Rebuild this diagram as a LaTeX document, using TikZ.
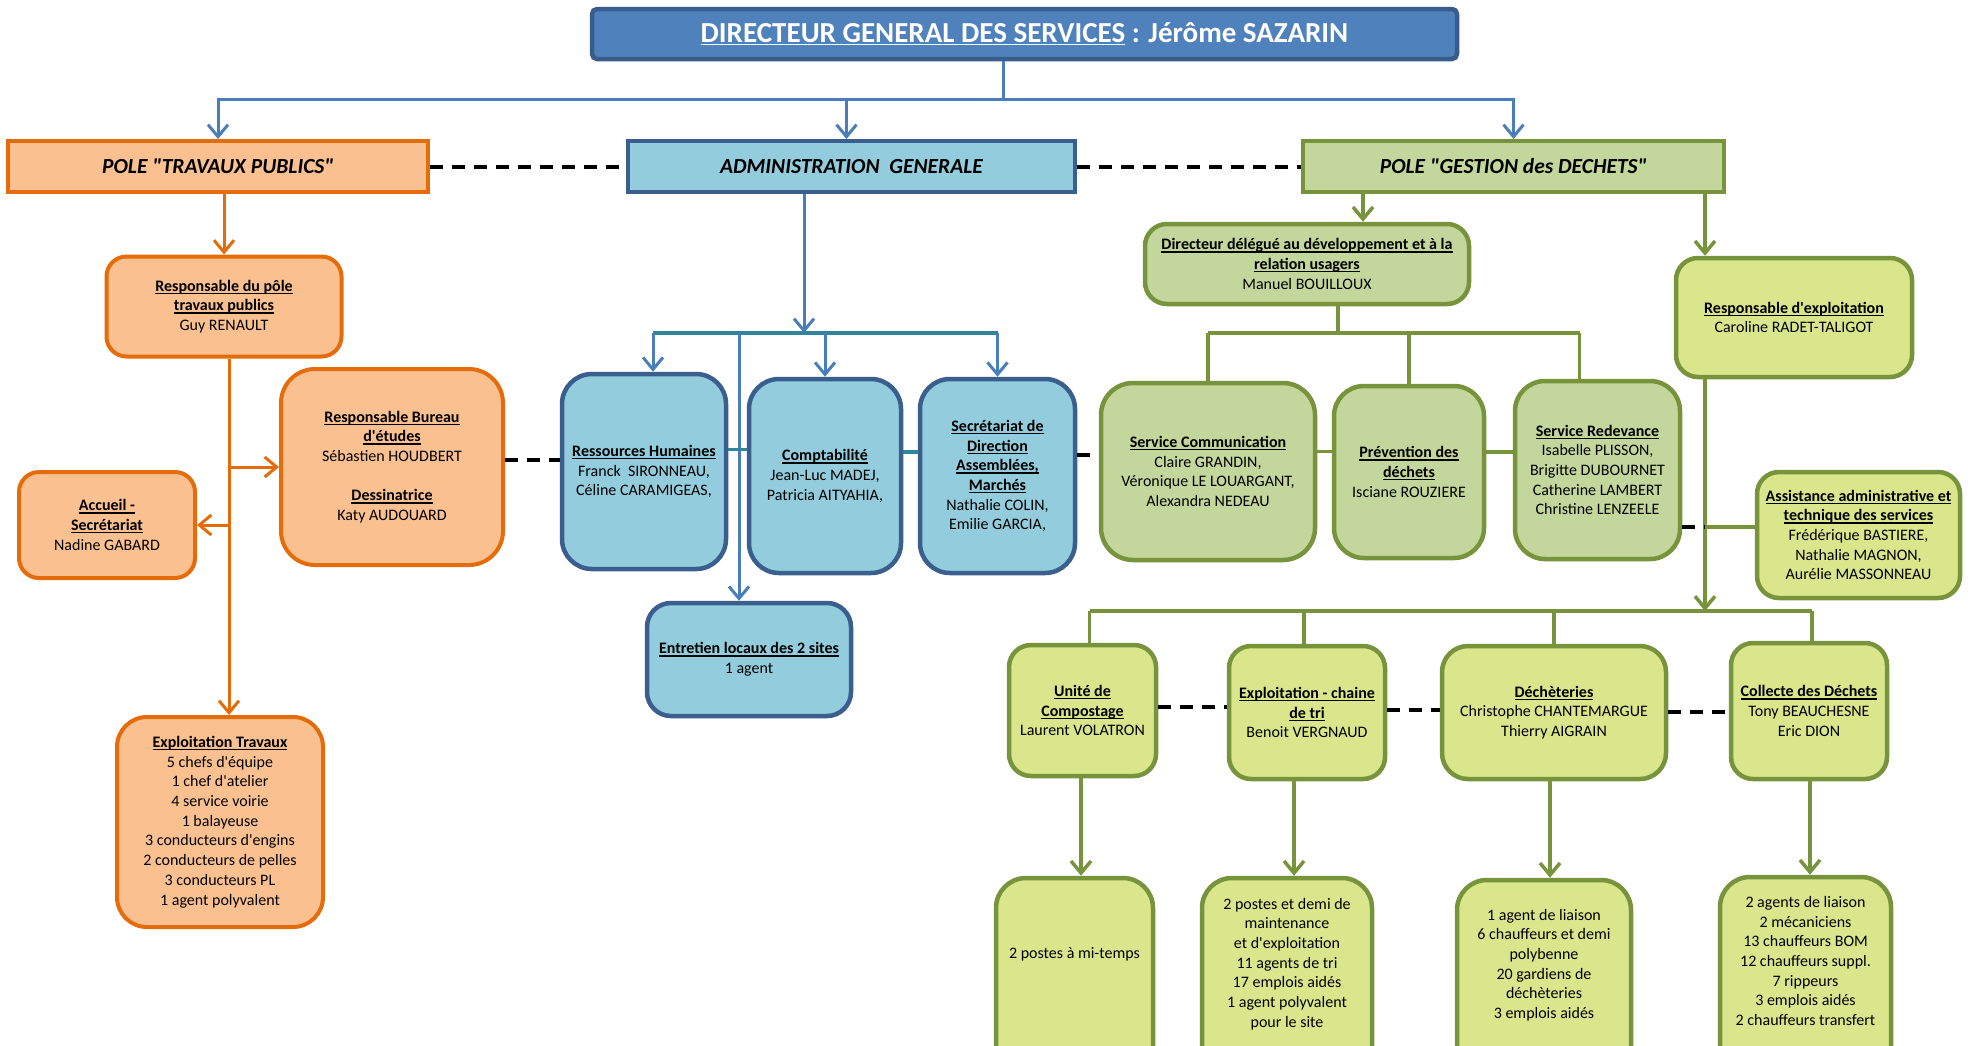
\documentclass[tikz,border=0pt]{standalone}
\usepackage{fontspec}
\setmainfont{Carlito}
\usetikzlibrary{arrows.meta}
\definecolor{dgsfill}{HTML}{4F81BD}
\definecolor{dgsline}{HTML}{385D8A}
\definecolor{adfill}{HTML}{93CDDD}
\definecolor{adline}{HTML}{3A5F8E}
\definecolor{adconn}{HTML}{4A7EBB}
\definecolor{adteal}{HTML}{31859C}
\definecolor{orfill}{HTML}{FAC090}
\definecolor{orline}{HTML}{E46C0A}
\definecolor{gnfill}{HTML}{C3D69B}
\definecolor{gnline}{HTML}{77933C}
\definecolor{ygfill}{HTML}{D9E68B}
\newsavebox{\myulbox}
\newcommand{\myul}[1]{\sbox{\myulbox}{#1}\rlap{\rule[-2.8pt]{\wd\myulbox}{1.3pt}}\usebox{\myulbox}}
\newcommand{\hd}[1]{\textbf{\myul{#1}}}
\newcommand{\q}{\textquotesingle}
\newcommand{\qq}{\textquotedbl}
\tikzset{
  txt/.style={align=center, inner sep=0pt, font=\fontsize{16pt}{19.7pt}\selectfont},
  obox/.style={txt, fill=orfill, draw=orline, line width=4pt, rounded corners=20pt},
  bbox/.style={txt, fill=adfill, draw=adline, line width=4.5pt, rounded corners=24pt},
  gbox/.style={txt, fill=gnfill, draw=gnline, line width=4.5pt, rounded corners=22pt},
  ybox/.style={txt, fill=ygfill, draw=gnline, line width=4.5pt, rounded corners=22pt},
  pole/.style={inner sep=0pt, line width=4pt, font=\fontsize{21.5pt}{24pt}\selectfont\bfseries\itshape},
  arr/.style={-{Straight Barb[length=12pt,width=20pt]}},
  oconn/.style={draw=orline, line width=3pt},
  bconn/.style={draw=adconn, line width=3pt},
  tconn/.style={draw=adteal, line width=3.5pt},
  gconn/.style={draw=gnline, line width=3.5pt},
  dsh/.style={draw=black, line width=4pt, dash pattern=on 13pt off 9pt},
}
\begin{document}
\begin{tikzpicture}[x=1pt,y=-1pt]
\useasboundingbox (0,0) rectangle (1970,1045);
\fill[white] (0,0) rectangle (1970,1045);
\clip (0,0) rectangle (1970,1045);

% ---------- top ----------
\node[fill=dgsfill, draw=dgsline, line width=4.5pt, rounded corners=5pt, inner sep=0pt,
      minimum width=865pt, minimum height=50pt, text=white,
      font=\fontsize{29pt}{32pt}\selectfont\bfseries] (dgs) at (1024.5,34)
      {\myul{DIRECTEUR GENERAL DES SERVICES} : Jérôme SAZARIN};

\node[pole, fill=orfill, draw=orline, minimum width=420pt, minimum height=51pt] (tp) at (218,166.5) {POLE \qq TRAVAUX PUBLICS\qq};
\node[pole, fill=adfill, draw=adline, minimum width=447pt, minimum height=51pt] (ad) at (851.5,166.5) {ADMINISTRATION\ \ GENERALE};
\node[pole, fill=gnfill, draw=gnline, minimum width=421pt, minimum height=51pt] (gd) at (1513.5,166.5) {POLE \qq GESTION des DECHETS\qq};

\coordinate (hub) at (1003,99);
\draw[bconn] (hub |- dgs.south) -- (hub);
\draw[bconn, arr] (hub) -| (tp.north);
\draw[bconn, arr] (hub) -| (gd.north);
\draw[bconn, arr] ([xshift=-5pt]ad.north |- hub) -- ([xshift=-5pt]ad.north);
\draw[dsh] (tp.east) -- (ad.west);
\draw[dsh] (ad.east) -- (gd.west);

% ---------- travaux publics ----------
\node[obox, minimum width=235pt, minimum height=100pt] (rpt) at (224,306.5)
  {\hd{Responsable du pôle}\\\hd{travaux publics}\\Guy RENAULT};
\node[obox, rounded corners=34pt, minimum width=222pt, minimum height=196pt] (bur) at (392,467)
  {\hd{Responsable Bureau}\\\hd{d\q études}\\Sébastien HOUDBERT\\[19.7pt]\hd{Dessinatrice}\\Katy AUDOUARD};
\node[obox, minimum width=176pt, minimum height=106pt] (acc) at (107,525)
  {\hd{Accueil -}\\\hd{Secrétariat}\\Nadine GABARD};
\node[obox, rounded corners=30pt, minimum width=206pt, minimum height=210pt] (ext) at (220,822)
  {\hd{Exploitation Travaux}\\5 chefs d\q équipe\\1 chef d\q atelier\\4 service voirie\\1 balayeuse\\3 conducteurs d\q engins\\2 conducteurs de pelles\\3 conducteurs PL\\1 agent polyvalent};

\draw[oconn, arr] (tp.south -| rpt.north) -- (rpt.north);
\draw[oconn, arr] ([xshift=5pt]rpt.south) -- ([xshift=5pt]rpt.south |- ext.north);
\draw[oconn, arr] ([xshift=5pt]rpt.south |- bur.west) -- (bur.west);
\draw[oconn, arr] ([xshift=5pt]rpt.south |- acc.east) -- (acc.east);

% ---------- administration ----------
\node[bbox, rounded corners=30pt, minimum width=164pt, minimum height=195pt] (rh) at (644,471.5)
  {\hd{Ressources Humaines}\\Franck~~SIRONNEAU,\\Céline CARAMIGEAS,};
\node[bbox, rounded corners=30pt, minimum width=152pt, minimum height=194pt] (cpt) at (825,476)
  {\hd{Comptabilité}\\Jean-Luc MADEJ,\\Patricia AITYAHIA,};
\node[bbox, rounded corners=30pt, minimum width=155pt, minimum height=194pt] (sec) at (997.5,476)
  {\hd{Secrétariat de}\\\hd{Direction}\\\hd{Assemblées,}\\\hd{Marchés}\\Nathalie COLIN,\\Emilie GARCIA,};
\node[bbox, minimum width=204pt, minimum height=113pt] (ent) at (749,659.5)
  {\hd{Entretien locaux des 2 sites}\\1 agent};

\coordinate (ab) at (804,333);
\draw[bconn, arr] (ab |- ad.south) -- (ab);
\draw[tconn] ([xshift=9pt]rh.north |- ab) -- (sec.north |- ab);
\draw[bconn, arr] ([xshift=9pt]rh.north |- ab) -- ([xshift=9pt]rh.north);
\draw[bconn, arr] (cpt.north |- ab) -- (cpt.north);
\draw[bconn, arr] (sec.north |- ab) -- (sec.north);
\draw[bconn, arr] ([xshift=-10pt]ent.north |- ab) -- ([xshift=-10pt]ent.north);
\draw[tconn] ([yshift=22pt]rh.east) -- ([yshift=22pt]rh.east -| cpt.west);
\draw[tconn] ([yshift=24pt]cpt.east) -- ([yshift=24pt]cpt.east -| sec.west);
\draw[dsh] ([yshift=7pt]bur.east) -- ([yshift=7pt]bur.east -| rh.west);

% ---------- gestion des dechets ----------
\node[gbox, minimum width=324pt, minimum height=80pt] (dd) at (1307,264)
  {\hd{Directeur délégué au développement et à la}\\\hd{relation usagers}\\Manuel BOUILLOUX};
\node[ybox, minimum width=236pt, minimum height=119pt] (rex) at (1794,317.5)
  {\hd{Responsable d\q exploitation}\\Caroline RADET-TALIGOT};
\node[gbox, rounded corners=32pt, minimum width=214pt, minimum height=177pt] (sc) at (1208,471.5)
  {\hd{Service Communication}\\Claire GRANDIN,\\Véronique LE LOUARGANT,\\Alexandra NEDEAU};
\node[gbox, rounded corners=30pt, minimum width=150pt, minimum height=172pt] (pv) at (1409,472)
  {\hd{Prévention des}\\\hd{déchets}\\Isciane ROUZIERE};
\node[gbox, rounded corners=30pt, minimum width=165pt, minimum height=178pt] (red) at (1597.5,470)
  {\hd{Service Redevance}\\Isabelle PLISSON,\\Brigitte DUBOURNET\\Catherine LAMBERT\\Christine LENZEELE};
\node[ybox, minimum width=203pt, minimum height=126pt] (as) at (1858.5,535)
  {\hd{Assistance administrative et}\\\hd{technique des services}\\Frédérique BASTIERE,\\Nathalie MAGNON,\\Aurélie MASSONNEAU};

\draw[dsh] ([yshift=21pt]sec.east) -- ([yshift=21pt]sec.east -| sc.west);

\draw[gconn, arr] ([xshift=56pt]dd.north |- gd.south) -- ([xshift=56pt]dd.north);
\draw[gconn, arr] ([xshift=-89pt]rex.north |- gd.south) -- ([xshift=-89pt]rex.north);
\coordinate (dj) at (1338,333);
\draw[gconn] (dj |- dd.south) -- (dj);
\draw[gconn] (sc.north |- dj) -- ([xshift=-18pt]red.north |- dj);
\draw[gconn] (sc.north |- dj) -- (sc.north);
\draw[gconn] (pv.north |- dj) -- (pv.north);
\draw[gconn] ([xshift=-18pt]red.north |- dj) -- ([xshift=-18pt]red.north);
\draw[gconn] ([yshift=20pt]sc.east) -- ([yshift=20pt]sc.east -| pv.west);
\draw[gconn] ([yshift=20pt]pv.east) -- ([yshift=20pt]pv.east -| red.west);

\coordinate (ej) at (1705,611);
\draw[gconn, arr] (ej |- rex.south) -- (ej);
\draw[gconn] ([yshift=8pt]as.west -| ej) -- ([yshift=8pt]as.west);
\draw[dsh] ([yshift=-57pt]red.east) -- ([yshift=-57pt]red.east -| ej);

\node[ybox, minimum width=147pt, minimum height=131pt] (un) at (1082.5,710.5)
  {\hd{Unité de}\\\hd{Compostage}\\Laurent VOLATRON};
\node[ybox, minimum width=156pt, minimum height=133pt] (ec) at (1307,712.5)
  {\hd{Exploitation - chaine}\\\hd{de tri}\\Benoit VERGNAUD};
\node[ybox, rounded corners=26pt, minimum width=224pt, minimum height=133pt] (dc) at (1554,712.5)
  {\hd{Déchèteries}\\Christophe CHANTEMARGUE\\Thierry AIGRAIN};
\node[ybox, minimum width=156pt, minimum height=136pt] (co) at (1809,711)
  {\hd{Collecte des Déchets}\\Tony BEAUCHESNE\\Eric DION};

\draw[gconn] ([xshift=7pt]un.north |- ej) -- ([xshift=3pt]co.north |- ej);
\draw[gconn] ([xshift=7pt]un.north |- ej) -- ([xshift=7pt]un.north);
\draw[gconn] ([xshift=-3pt]ec.north |- ej) -- ([xshift=-3pt]ec.north);
\draw[gconn] (dc.north |- ej) -- (dc.north);
\draw[gconn] ([xshift=3pt]co.north |- ej) -- ([xshift=3pt]co.north);
\draw[dsh] ([yshift=4pt]un.east) -- ([yshift=4pt]un.east -| ec.west);
\draw[dsh] ([yshift=3pt]ec.east) -- ([yshift=3pt]ec.east -| dc.west);
\draw[dsh] ([yshift=1pt]dc.east) -- ([yshift=1pt]dc.east -| co.west);

\node[ybox, rounded corners=30pt, minimum width=157pt, minimum height=200pt] (ba) at (1074.5,978) {};
\node[ybox, rounded corners=30pt, minimum width=170pt, minimum height=200pt] (bb) at (1287,978) {};
\node[ybox, rounded corners=30pt, minimum width=174pt, minimum height=200pt] (bc) at (1544,980) {};
\node[ybox, rounded corners=30pt, minimum width=171pt, minimum height=200pt] (bd) at (1805.5,977) {};
\node[txt] (tba) at (1074.5,954) {2 postes à mi-temps};
\node[txt] (tbb) at (1287,964) {2 postes et demi de\\maintenance\\et d\q exploitation\\11 agents de tri\\17 emplois aidés\\1 agent polyvalent\\pour le site};
\node[txt] (tbc) at (1544,965) {1 agent de liaison\\6 chauffeurs et demi\\polybenne\\20 gardiens de\\déchèteries\\3 emplois aidés};
\node[txt] (tbd) at (1805.5,961) {2 agents de liaison\\2 mécaniciens\\13 chauffeurs BOM\\12 chauffeurs suppl.\\7 rippeurs\\3 emplois aidés\\2 chauffeurs transfert};

\draw[gconn, arr] ([xshift=-1.5pt]un.south) -- ([xshift=-1.5pt]un.south |- ba.north);
\draw[gconn, arr] ([xshift=-13pt]ec.south) -- ([xshift=-13pt]ec.south |- bb.north);
\draw[gconn, arr] ([xshift=-4pt]dc.south) -- ([xshift=-4pt]dc.south |- bc.north);
\draw[gconn, arr] ([xshift=1pt]co.south) -- ([xshift=1pt]co.south |- bd.north);
\end{tikzpicture}
\end{document}
